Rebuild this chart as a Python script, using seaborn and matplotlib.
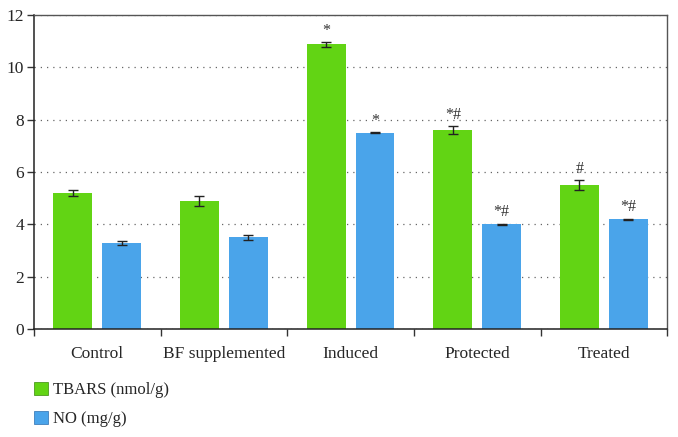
import matplotlib
matplotlib.use("Agg")
import matplotlib.pyplot as plt
import seaborn as sns
import pandas as pd
import numpy as np
from matplotlib.ticker import FixedLocator, NullFormatter
from matplotlib.patches import Patch

groups = ["Control", "BF supplemented", "Induced", "Protected", "Treated"]
series = ["TBARS (nmol/g)", "NO (mg/g)"]
tbars = [5.2, 4.9, 10.87, 7.6, 5.5]
tbars_err = [0.1, 0.2, 0.1, 0.15, 0.2]
no_vals = [3.3, 3.5, 7.5, 4.0, 4.2]
no_err = [0.08, 0.08, 0.02, 0.03, 0.02]
tbars_marks = ["", "", "*", "*#", "#"]
no_marks = ["", "", "*", "*#", "*#"]
yticks = [0, 2, 4, 6, 8, 10, 12]

colors = ["#62d414", "#4aa4ea"]

df = pd.DataFrame({
    "group": groups * 2,
    "series": [series[0]] * 5 + [series[1]] * 5,
    "value": tbars + no_vals,
})

sns.set_style("white")
plt.rcParams["font.family"] = ["Liberation Serif", "DejaVu Serif"]

fig = plt.figure(figsize=(6.78, 4.37), dpi=100)
ax = fig.add_axes([0.050, 0.247, 0.934, 0.719])

sns.barplot(data=df, x="group", y="value", hue="series", order=groups,
            hue_order=series, palette=colors, width=0.772, gap=0.205,
            errorbar=None, ax=ax, legend=False, saturation=1,
            edgecolor="none")

errs = [tbars_err, no_err]
marks = [tbars_marks, no_marks]
vals = [tbars, no_vals]
bar_conts = list(ax.containers)
for si, cont in enumerate(bar_conts):
    for bi, bar in enumerate(cont.patches):
        xc = bar.get_x() + bar.get_width() / 2
        v = vals[si][bi]
        e = errs[si][bi]
        ax.errorbar(xc, v, yerr=e, fmt="none", ecolor="#222222",
                    elinewidth=1.0, capsize=3.5, capthick=1.0, zorder=5)
        if marks[si][bi]:
            ax.text(xc, v + e + 0.12, marks[si][bi], ha="center", va="bottom",
                    fontsize=11.5, color="#333333")

ax.set_ylim(0, 12)
ax.set_xlim(-0.5, 4.5)
ax.set_yticks(yticks)
ax.set_yticklabels([str(t) for t in yticks], fontsize=12.5)
ax.yaxis.grid(True, linestyle=(0, (1, 4)), color="#666666", linewidth=0.9)
ax.set_axisbelow(True)
ax.set_xlabel("")
ax.set_ylabel("")

ax.tick_params(axis="x", which="major", length=0, labelsize=12.5, pad=12)
ax.xaxis.set_minor_locator(FixedLocator([-0.5, 0.5, 1.5, 2.5, 3.5, 4.5]))
ax.xaxis.set_minor_formatter(NullFormatter())
ax.tick_params(axis="x", which="minor", length=5, width=1, color="#333333",
               direction="out", bottom=True)
ax.tick_params(axis="y", length=5, width=1, color="#333333", direction="out",
               left=True, pad=2)

for side in ["left", "bottom"]:
    ax.spines[side].set_color("#222222")
    ax.spines[side].set_linewidth(1.1)
for side in ["top", "right"]:
    ax.spines[side].set_color("#555555")
    ax.spines[side].set_linewidth(1.0)

handles = [Patch(facecolor=colors[0], edgecolor="#3a8a0a", linewidth=0.5, label=series[0]),
           Patch(facecolor=colors[1], edgecolor="#2a6fb0", linewidth=0.5, label=series[1])]
fig.legend(handles=handles, loc="upper left", bbox_to_anchor=(0.028, 0.16),
           frameon=False, fontsize=12, handlelength=0.85, handleheight=0.85,
           handletextpad=0.3, labelspacing=0.75)

fig.savefig("out.png", dpi=100)
